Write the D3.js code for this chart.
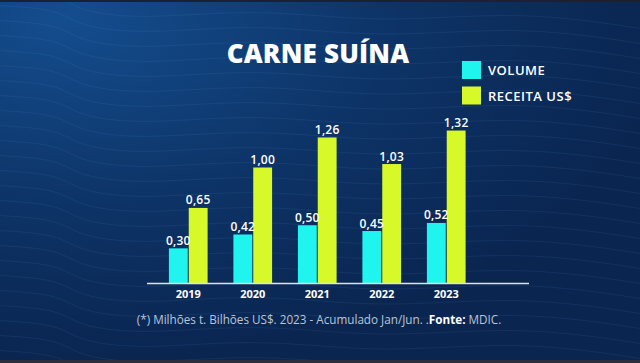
<!DOCTYPE html>
<html>
<head>
<meta charset="utf-8">
<script src="https://cdn.jsdelivr.net/npm/d3@7"></script>
<style>
  html, body { margin: 0; padding: 0; background: #0b2752; }
  svg { display: block; }
</style>
</head>
<body>
<div class="chart"></div>
<script>
// DATA ------------------------------
const years = ["2019", "2020", "2021", "2022", "2023"];
const volume = [0.30, 0.42, 0.50, 0.45, 0.52];
const receita = [0.65, 1.00, 1.26, 1.03, 1.32];
const seriesNames = ["VOLUME", "RECEITA US$"];
const seriesColors = ["#20f4ef", "#d7f92a"];

const W = 640, H = 363;
const fmt = v => d3.format(".2f")(v).replace(".", ",");

const svg = d3.select(".chart").append("svg")
    .attr("width", W)
    .attr("height", H);

// background
const defs = svg.append("defs");
const grad = defs.append("radialGradient")
    .attr("id", "bg")
    .attr("cx", "10%").attr("cy", "5%").attr("r", "95%");
grad.append("stop").attr("offset", "0%").attr("stop-color", "#144d8e");
grad.append("stop").attr("offset", "55%").attr("stop-color", "#0d3366");
grad.append("stop").attr("offset", "100%").attr("stop-color", "#0a2550");

svg.append("rect").attr("width", W).attr("height", H).attr("fill", "url(#bg)");

// faint contour lines (decoration only)
const wave = d3.line().curve(d3.curveBasis);
const deco = svg.append("g").attr("fill", "none")
    .attr("stroke", "#6fa6e6").attr("stroke-opacity", 0.12).attr("stroke-width", 0.8);
for (let k = 0; k < 26; k++) {
  const y0 = -10 + k * 15;
  const pts = [[-10, y0], [60, y0 + 4], [75, y0 + 20], [140, y0 + 30], [260, y0 + 18],
               [380, y0 + 34], [520, y0 + 20], [650, y0 + 40]];
  deco.append("path").attr("d", wave(pts));
}
svg.append("rect").attr("width", W).attr("height", 2).attr("fill", "#1b2130");
svg.append("rect").attr("y", H - 3).attr("width", W).attr("height", 3).attr("fill", "#2a2f3a");

// SCALES ------------------------------
const baseY = 283;
const x = d3.scaleBand()
    .domain(years)
    .range([156, 478.5])
    .paddingInner(0.4)
    .paddingOuter(0.2);

const xSub = d3.scaleBand()
    .domain(seriesNames)
    .range([0, x.bandwidth()])
    .paddingInner(0.05);

const y = d3.scaleLinear()
    .domain([0, 1.4])
    .range([baseY, baseY - 1.4 * 115.5]);

// BARS ------------------------------
const rows = years.map((yr, i) => ({ year: yr, values: [volume[i], receita[i]] }));

const groups = svg.selectAll(".grp")
    .data(rows)
    .enter().append("g")
    .attr("class", "grp")
    .attr("transform", d => `translate(${x(d.year)},0)`);

groups.selectAll("rect")
    .data(d => d.values.map((v, j) => ({ key: seriesNames[j], v: v, c: seriesColors[j] })))
    .enter().append("rect")
    .attr("x", d => xSub(d.key))
    .attr("y", d => y(d.v))
    .attr("width", xSub.bandwidth())
    .attr("height", d => baseY - y(d.v))
    .attr("fill", d => d.c);

groups.selectAll("text")
    .data(d => d.values.map((v, j) => ({ key: seriesNames[j], v: v })))
    .enter().append("text")
    .attr("x", d => xSub(d.key) + xSub.bandwidth() / 2)
    .attr("y", d => y(d.v) - 3.5)
    .attr("text-anchor", "middle")
    .attr("fill", "#ffffff")
    .attr("font-family", "'Open Sans', sans-serif")
    .attr("font-weight", 600)
    .attr("font-size", "12px")
    .attr("letter-spacing", "0.2px")
    .text(d => fmt(d.v));

// AXIS ------------------------------
const xAxis = d3.axisBottom(x).tickSize(0).tickPadding(7);
const ax = svg.append("g")
    .attr("class", "axis x-axis")
    .attr("transform", `translate(0,${baseY})`)
    .call(xAxis);
ax.select(".domain").remove();
ax.selectAll("text")
    .attr("fill", "#ffffff")
    .attr("font-family", "'Open Sans', sans-serif")
    .attr("font-weight", 700)
    .attr("font-size", "11px");

svg.append("line")
    .attr("x1", 147).attr("x2", 529)
    .attr("y1", baseY + 0.5).attr("y2", baseY + 0.5)
    .attr("stroke", "#dbe3f0")
    .attr("stroke-width", 1.3);

// TITLE + LEGEND ------------------------------
svg.append("text")
    .attr("x", 318).attr("y", 63)
    .attr("text-anchor", "middle")
    .attr("fill", "#ffffff")
    .attr("font-family", "'Open Sans', sans-serif")
    .attr("font-weight", 800)
    .attr("font-size", "26px")
    .attr("letter-spacing", "0.2px")
    .text("CARNE SUÍNA");

const legend = svg.append("g").attr("transform", "translate(462,61)");
seriesNames.forEach((name, i) => {
  legend.append("rect")
    .attr("x", 0).attr("y", i * 25.5)
    .attr("width", 19).attr("height", 18)
    .attr("fill", seriesColors[i]);
  legend.append("text")
    .attr("x", 26).attr("y", i * 25.5 + 14)
    .attr("fill", "#ffffff")
    .attr("font-family", "'Open Sans', sans-serif")
    .attr("font-weight", 600)
    .attr("font-size", "13px")
    .attr("letter-spacing", "0.5px")
    .text(name);
});

// FOOTNOTE ------------------------------
const note = svg.append("text")
    .attr("x", 319).attr("y", 324)
    .attr("text-anchor", "middle")
    .attr("fill", "#b9c5d9")
    .attr("font-family", "'Open Sans', sans-serif")
    .attr("font-weight", 400)
    .attr("font-size", "11.7px");
note.append("tspan").text("(*) Milhões t. Bilhões US$. 2023 - Acumulado Jan/Jun. .");
note.append("tspan").attr("fill", "#ffffff").attr("font-weight", 700).text("Fonte:");
note.append("tspan").text(" MDIC.");
</script>
</body>
</html>
